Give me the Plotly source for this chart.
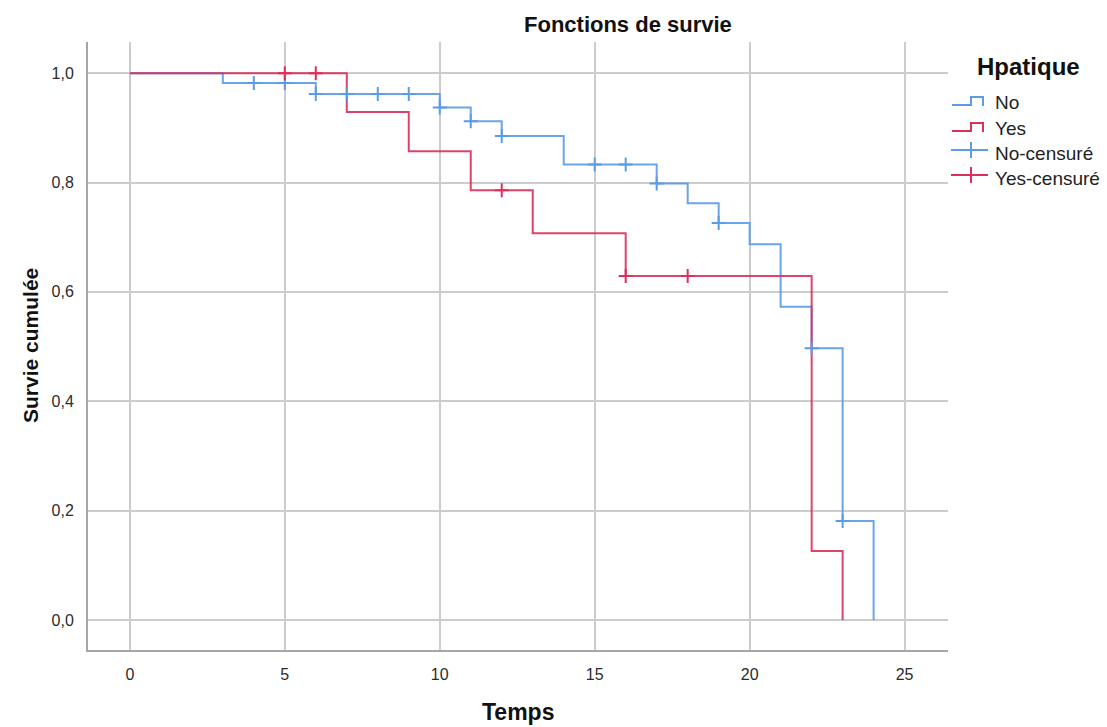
import plotly.graph_objects as go

# Kaplan-Meier step functions by group (event times and survival after each step)
no_times = [0, 3, 6, 10, 11, 12, 14, 17, 18, 19, 20, 21, 22, 23, 24]
no_surv = [1.0, 0.982, 0.962, 0.937, 0.912, 0.885, 0.833, 0.798, 0.762,
           0.726, 0.687, 0.573, 0.497, 0.181, 0.0]

yes_times = [0, 7, 9, 11, 13, 16, 22, 23]
yes_surv = [1.0, 0.929, 0.857, 0.786, 0.707, 0.629, 0.126, 0.0]

# Censoring times
no_censored = [4, 5, 6, 7, 8, 9, 10, 11, 12, 15, 16, 17, 19, 22, 23]
yes_censored = [5, 6, 12, 16, 18]

x_ticks = [0, 5, 10, 15, 20, 25]
y_ticks = [0.0, 0.2, 0.4, 0.6, 0.8, 1.0]

BLUE = "#5b9be8"
RED = "#dc2f5a"
FONT = "Liberation Sans, Arial, sans-serif"


def surv_at(t, times, surv):
    s = surv[0]
    for ti, si in zip(times, surv):
        if ti <= t:
            s = si
    return s


fig = go.Figure()

fig.add_trace(go.Scatter(x=no_times, y=no_surv, mode="lines", line_shape="hv",
                         line=dict(color=BLUE, width=2), opacity=0.9,
                         name="No", showlegend=False))
fig.add_trace(go.Scatter(x=yes_times, y=yes_surv, mode="lines", line_shape="hv",
                         line=dict(color=RED, width=2), opacity=0.9,
                         name="Yes", showlegend=False))

fig.add_trace(go.Scatter(
    x=no_censored, y=[surv_at(t, no_times, no_surv) for t in no_censored],
    mode="markers", name="No-censuré", showlegend=False,
    marker=dict(symbol="cross-thin", size=10, line=dict(color=BLUE, width=2))))
fig.add_trace(go.Scatter(
    x=yes_censored, y=[surv_at(t, yes_times, yes_surv) for t in yes_censored],
    mode="markers", name="Yes-censuré", showlegend=False,
    marker=dict(symbol="cross-thin", size=10, line=dict(color=RED, width=2))))

# Plot area in pixels
L, R, T, B = 88, 948, 42, 650
W, H = 1107, 727


def px(x):
    return (x - L) / (R - L)


def py(y):
    return (B - y) / (B - T)


shapes = []
annotations = []

# Legend drawn in paper coordinates
legend_items = [
    ("No", BLUE, "step", 102),
    ("Yes", RED, "step", 128),
    ("No-censuré", BLUE, "cross", 153),
    ("Yes-censuré", RED, "cross", 178),
]
for label, color, kind, yc in legend_items:
    if kind == "step":
        path = (f"M {px(952)},{py(yc + 3)} L {px(971)},{py(yc + 3)} "
                f"L {px(971)},{py(yc - 5)} L {px(983)},{py(yc - 5)} "
                f"L {px(983)},{py(yc + 4)}")
        shapes.append(dict(type="path", path=path, xref="paper", yref="paper",
                           line=dict(color=color, width=2)))
    else:
        shapes.append(dict(type="line", xref="paper", yref="paper",
                           x0=px(951), x1=px(988), y0=py(yc - 3), y1=py(yc - 3),
                           line=dict(color=color, width=2)))
        shapes.append(dict(type="line", xref="paper", yref="paper",
                           x0=px(971), x1=px(971), y0=py(yc - 11), y1=py(yc + 5),
                           line=dict(color=color, width=2)))
    annotations.append(dict(text=label, x=px(993), y=py(yc), xref="paper", yref="paper",
                            xanchor="left", yanchor="middle", showarrow=False,
                            font=dict(family=FONT, size=19, color="#222222")))

annotations.append(dict(text="<b>Hpatique</b>", x=px(1028), y=py(66), xref="paper",
                        yref="paper", xanchor="center", yanchor="middle",
                        showarrow=False,
                        font=dict(family=FONT, size=24, color="#111111")))

annotations.append(dict(text="<b>Fonctions de survie</b>", x=px(628), y=py(24),
                        xref="paper", yref="paper", xanchor="center",
                        yanchor="middle", showarrow=False,
                        font=dict(family=FONT, size=22, color="#111111")))
annotations.append(dict(text="<b>Temps</b>", x=px(518), y=py(712), xref="paper",
                        yref="paper", xanchor="center", yanchor="middle",
                        showarrow=False,
                        font=dict(family=FONT, size=23, color="#111111")))
annotations.append(dict(text="<b>Survie cumulée</b>", x=px(30), y=py(345),
                        xref="paper", yref="paper", xanchor="center",
                        yanchor="middle", textangle=-90, showarrow=False,
                        font=dict(family=FONT, size=21, color="#111111")))

fig.update_layout(
    width=W, height=H,
    margin=dict(l=L, r=W - R, t=T, b=H - B, pad=0),
    paper_bgcolor="white", plot_bgcolor="white",
    separators=", ",
    shapes=shapes, annotations=annotations,
    showlegend=False,
    font=dict(family=FONT, size=16, color="#2b2b2b"),
)
fig.update_xaxes(range=[-1.35, 26.4], tickvals=x_ticks, showgrid=True,
                 gridcolor="#cccccc", gridwidth=2, zeroline=False,
                 showline=True, linecolor="#a6a6a6", linewidth=2,
                 ticks="", ticklabelstandoff=9,
                 tickfont=dict(family=FONT, size=16, color="#2b2b2b"))
fig.update_yaxes(range=[-0.055, 1.057], tickvals=y_ticks, tickformat=".1f",
                 showgrid=True, gridcolor="#cccccc", gridwidth=2, zeroline=False,
                 showline=True, linecolor="#a6a6a6", linewidth=2,
                 ticks="", ticklabelstandoff=9,
                 tickfont=dict(family=FONT, size=16, color="#2b2b2b"))

fig.write_html("out.html")
